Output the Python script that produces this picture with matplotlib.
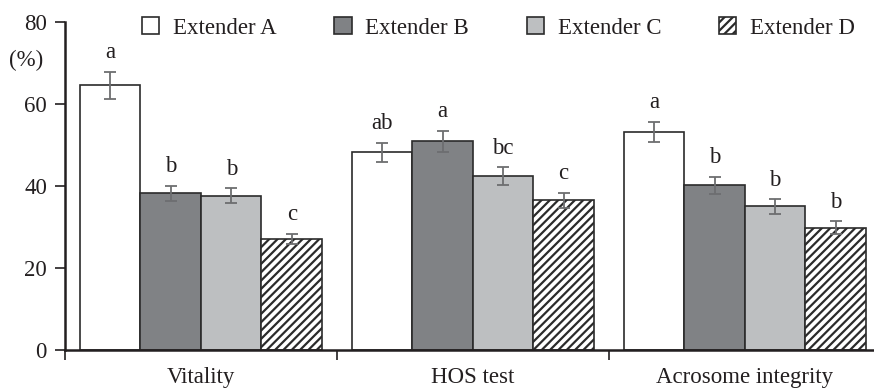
import matplotlib
matplotlib.use("Agg")
import matplotlib.pyplot as plt
import numpy as np

plt.rcParams['font.family'] = ['Liberation Serif', 'DejaVu Serif']
plt.rcParams['hatch.linewidth'] = 1.6

categories = ["Vitality", "HOS test", "Acrosome integrity"]
series = ["Extender A", "Extender B", "Extender C", "Extender D"]
values = {
    "Extender A": [64.6, 48.2, 53.2],
    "Extender B": [38.2, 50.9, 40.2],
    "Extender C": [37.6, 42.4, 35.0],
    "Extender D": [27.1, 36.5, 29.8],
}
errors = {
    "Extender A": [3.3, 2.4, 2.5],
    "Extender B": [1.9, 2.6, 2.1],
    "Extender C": [1.8, 2.2, 1.9],
    "Extender D": [1.3, 1.9, 1.6],
}
letters = {
    "Extender A": ["a", "ab", "a"],
    "Extender B": ["b", "a", "b"],
    "Extender C": ["b", "bc", "b"],
    "Extender D": ["c", "c", "b"],
}
yticks = [0, 20, 40, 60, 80]

faces = {"Extender A": "white", "Extender B": "#808285",
         "Extender C": "#bdbfc1", "Extender D": "white"}
hatches = {"Extender A": None, "Extender B": None,
           "Extender C": None, "Extender D": "////"}

fig = plt.figure(figsize=(8.74, 3.9), dpi=100)
ax = fig.add_axes([65/874, 1-350/390, 1-65/874, (350-22)/390])

x = np.arange(len(categories)) + 0.5
w = 0.2225
fs = 16.5
for i, s in enumerate(series):
    pos = x + (i - 1.5) * w
    ax.bar(pos, values[s], width=w, color=faces[s], edgecolor="#2b2b2b",
           linewidth=1.2, hatch=hatches[s], label=s, zorder=2)
    ax.errorbar(pos, values[s], yerr=errors[s], fmt="none", ecolor="#6d6e70",
                elinewidth=1.3, capsize=4, capthick=1.3, zorder=3)
    for p, v, e, l in zip(pos, values[s], errors[s], letters[s]):
        ax.annotate(l, (p, v + e), xytext=(0, 9.5), textcoords="offset points",
                    ha="center", va="baseline", fontsize=fs, color="#231f20")

ax.set_xlim(0, 2.975)
ax.set_ylim(0, 80)
ax.set_yticks(yticks)
ax.set_yticklabels([str(t) for t in yticks], fontsize=fs, color="#231f20")
ax.set_xticks([0, 1, 2])
ax.set_xticklabels([])
ax.set_xticks(x, minor=True)
ax.set_xticklabels(categories, minor=True, fontsize=fs, color="#231f20")
ax.tick_params(axis="x", which="minor", length=0, pad=12)
ax.tick_params(axis="x", which="major", length=7, width=1.2, direction="out", color="#231f20")
ax.tick_params(axis="y", length=7, width=1.2, direction="out", color="#231f20", pad=6)
for sp in ["top", "right"]:
    ax.spines[sp].set_visible(False)
for sp in ["left", "bottom"]:
    ax.spines[sp].set_linewidth(1.8)
    ax.spines[sp].set_color("#231f20")

fig.text(9/874, 1-60/390, "(%)", fontsize=fs, color="#231f20", va="center", ha="left")

leg = ax.legend(loc="upper left", bbox_to_anchor=(68/809, 1.042), ncol=4, frameon=False,
                fontsize=fs, handlelength=0.75, handleheight=0.75, handletextpad=0.6,
                columnspacing=2.52, borderaxespad=0)
for t in leg.get_texts():
    t.set_color("#231f20")

fig.savefig("out.png", dpi=100)
